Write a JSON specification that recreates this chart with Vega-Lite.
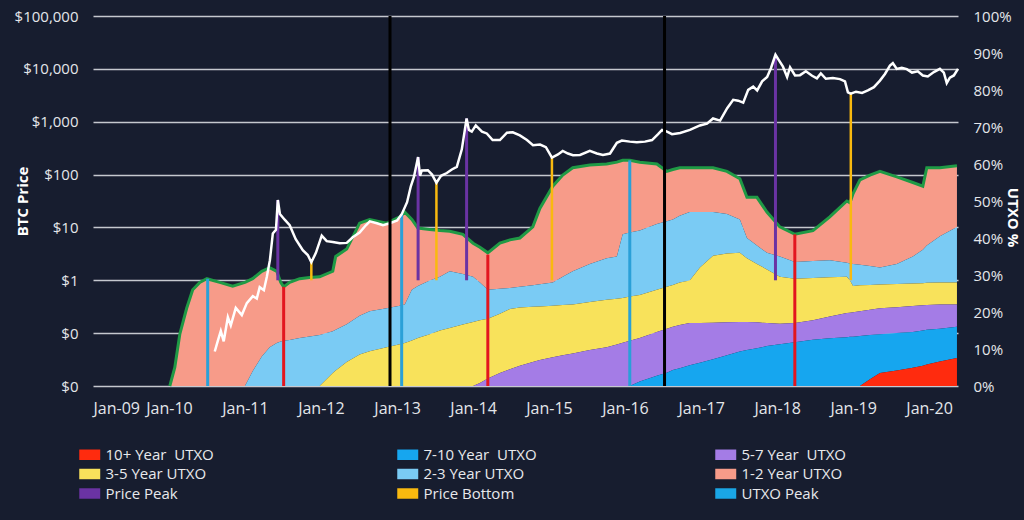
{
  "$schema": "https://vega.github.io/schema/vega-lite/v6.json",
  "width": 865,
  "height": 370,
  "autosize": {"type": "none"},
  "padding": {"left": 93, "top": 16, "right": 66, "bottom": 134},
  "background": "#171d2f",
  "config": {
    "view": {"stroke": null},
    "axis": {
      "labelFont": "Open Sans", "labelFontSize": 15, "labelColor": "#e4e6ea",
      "titleFont": "Open Sans", "titleFontSize": 15, "titleColor": "#ffffff", "titleFontWeight": "bold",
      "gridColor": "#c5c8cf", "gridWidth": 1.5, "gridOpacity": 1
    },
    "legend": {
      "labelFont": "Open Sans", "labelFontSize": 15, "labelColor": "#e8e9ec"
    }
  },
  "datasets": {
    "utxo": [
      {"d":"2010-01-05","T":0,"c2":0,"c3":0,"c5":0,"c7":0,"c10":0},
      {"d":"2010-01-29","T":5,"c2":0,"c3":0,"c5":0,"c7":0,"c10":0},
      {"d":"2010-02-22","T":14,"c2":0,"c3":0,"c5":0,"c7":0,"c10":0},
      {"d":"2010-03-27","T":21,"c2":0,"c3":0,"c5":0,"c7":0,"c10":0},
      {"d":"2010-04-25","T":26,"c2":0,"c3":0,"c5":0,"c7":0,"c10":0},
      {"d":"2010-05-29","T":28,"c2":0,"c3":0,"c5":0,"c7":0,"c10":0},
      {"d":"2010-07-02","T":29,"c2":0,"c3":0,"c5":0,"c7":0,"c10":0},
      {"d":"2010-09-02","T":28,"c2":0,"c3":0,"c5":0,"c7":0,"c10":0},
      {"d":"2010-11-03","T":27,"c2":0,"c3":0,"c5":0,"c7":0,"c10":0},
      {"d":"2011-01-01","T":28,"c2":0,"c3":0,"c5":0,"c7":0,"c10":0},
      {"d":"2011-02-07","T":29,"c2":4,"c3":0,"c5":0,"c7":0,"c10":0},
      {"d":"2011-03-23","T":31,"c2":8,"c3":0,"c5":0,"c7":0,"c10":0},
      {"d":"2011-04-30","T":32,"c2":10.5,"c3":0,"c5":0,"c7":0,"c10":0},
      {"d":"2011-06-03","T":31,"c2":11.6,"c3":0,"c5":0,"c7":0,"c10":0},
      {"d":"2011-06-22","T":28,"c2":12,"c3":0,"c5":0,"c7":0,"c10":0},
      {"d":"2011-07-06","T":26.8,"c2":12.2,"c3":0,"c5":0,"c7":0,"c10":0},
      {"d":"2011-08-04","T":28,"c2":12.4,"c3":0,"c5":0,"c7":0,"c10":0},
      {"d":"2011-09-21","T":29,"c2":13,"c3":0,"c5":0,"c7":0,"c10":0},
      {"d":"2011-11-08","T":29.3,"c2":13.4,"c3":0,"c5":0,"c7":0,"c10":0},
      {"d":"2011-12-26","T":29.5,"c2":13.8,"c3":0,"c5":0,"c7":0,"c10":0},
      {"d":"2012-02-27","T":31,"c2":14.8,"c3":3.5,"c5":0,"c7":0,"c10":0},
      {"d":"2012-03-12","T":35,"c2":15.2,"c3":4.2,"c5":0,"c7":0,"c10":0},
      {"d":"2012-05-04","T":37,"c2":16.7,"c3":6.5,"c5":0,"c7":0,"c10":0},
      {"d":"2012-07-05","T":44,"c2":19,"c3":8.5,"c5":0,"c7":0,"c10":0},
      {"d":"2012-08-22","T":45,"c2":20.2,"c3":9.4,"c5":0,"c7":0,"c10":0},
      {"d":"2012-11-12","T":44,"c2":21,"c3":10.5,"c5":0,"c7":0,"c10":0},
      {"d":"2013-01-14","T":45.7,"c2":21.7,"c3":11.3,"c5":0,"c7":0,"c10":0},
      {"d":"2013-02-07","T":47,"c2":22,"c3":11.6,"c5":0,"c7":0,"c10":0},
      {"d":"2013-03-13","T":45,"c2":26,"c3":12.3,"c5":0,"c7":0,"c10":0},
      {"d":"2013-04-11","T":42.7,"c2":27,"c3":13,"c5":0,"c7":0,"c10":0},
      {"d":"2013-06-07","T":42.3,"c2":28.5,"c3":14,"c5":0,"c7":0,"c10":0},
      {"d":"2013-07-26","T":42,"c2":29.5,"c3":15,"c5":0,"c7":0,"c10":0},
      {"d":"2013-09-11","T":41.8,"c2":31,"c3":15.7,"c5":0,"c7":0,"c10":0},
      {"d":"2013-11-13","T":41,"c2":30.3,"c3":16.6,"c5":0,"c7":0,"c10":0},
      {"d":"2014-01-01","T":38.6,"c2":29.5,"c3":17.3,"c5":0,"c7":0,"c10":0},
      {"d":"2014-02-03","T":37.5,"c2":28,"c3":17.8,"c5":0.8,"c7":0,"c10":0},
      {"d":"2014-03-13","T":36,"c2":26,"c3":18.2,"c5":2,"c7":0,"c10":0},
      {"d":"2014-05-10","T":38.6,"c2":26.3,"c3":19.5,"c5":3.5,"c7":0,"c10":0},
      {"d":"2014-06-27","T":39.5,"c2":26.5,"c3":20.8,"c5":4.5,"c7":0,"c10":0},
      {"d":"2014-08-14","T":40,"c2":26.8,"c3":21.2,"c5":5.5,"c7":0,"c10":0},
      {"d":"2014-10-15","T":43,"c2":27.2,"c3":21.4,"c5":6.5,"c7":0,"c10":0},
      {"d":"2014-11-18","T":48,"c2":27.5,"c3":21.5,"c5":7,"c7":0,"c10":0},
      {"d":"2015-01-19","T":54,"c2":28,"c3":21.7,"c5":7.8,"c7":0,"c10":0},
      {"d":"2015-03-08","T":57,"c2":29.5,"c3":21.9,"c5":8.3,"c7":0,"c10":0},
      {"d":"2015-04-25","T":59,"c2":31,"c3":22,"c5":8.8,"c7":0,"c10":0},
      {"d":"2015-07-16","T":59.7,"c2":33,"c3":22.7,"c5":9.7,"c7":0,"c10":0},
      {"d":"2015-10-05","T":60,"c2":34.5,"c3":23.3,"c5":10.5,"c7":0,"c10":0},
      {"d":"2015-11-23","T":60.5,"c2":35,"c3":23.6,"c5":11.2,"c7":0,"c10":0},
      {"d":"2015-12-21","T":61,"c2":41,"c3":23.8,"c5":11.7,"c7":0,"c10":0},
      {"d":"2016-01-24","T":61,"c2":41.5,"c3":24.2,"c5":12.2,"c7":0,"c10":0},
      {"d":"2016-03-12","T":60.5,"c2":42,"c3":24.6,"c5":13,"c7":1.2,"c10":0},
      {"d":"2016-06-02","T":60,"c2":43.8,"c3":26,"c5":14.6,"c7":2.8,"c10":0},
      {"d":"2016-07-20","T":58,"c2":44.5,"c3":26.8,"c5":15.5,"c7":3.6,"c10":0},
      {"d":"2016-08-18","T":58.5,"c2":45,"c3":27.3,"c5":16,"c7":4.3,"c10":0},
      {"d":"2016-09-20","T":59,"c2":46,"c3":28,"c5":16.5,"c7":4.8,"c10":0},
      {"d":"2016-11-07","T":59,"c2":47,"c3":28.5,"c5":17,"c7":5.6,"c10":0},
      {"d":"2016-12-26","T":59,"c2":47,"c3":32,"c5":17,"c7":6.3,"c10":0},
      {"d":"2017-02-27","T":59,"c2":47,"c3":35.2,"c5":17.1,"c7":7.2,"c10":0},
      {"d":"2017-05-05","T":58,"c2":46.5,"c3":35.8,"c5":17.2,"c7":8.3,"c10":0},
      {"d":"2017-07-06","T":56,"c2":45,"c3":36,"c5":17.3,"c7":9.3,"c10":0},
      {"d":"2017-08-09","T":51,"c2":40,"c3":34.5,"c5":17.3,"c7":9.7,"c10":0},
      {"d":"2017-09-26","T":51,"c2":38,"c3":33,"c5":17.2,"c7":10.2,"c10":0},
      {"d":"2017-11-13","T":47,"c2":36,"c3":31.5,"c5":17,"c7":10.8,"c10":0},
      {"d":"2018-01-14","T":43,"c2":35,"c3":29.5,"c5":16.8,"c7":11.3,"c10":0},
      {"d":"2018-03-27","T":41,"c2":33.5,"c3":29,"c5":17,"c7":11.8,"c10":0},
      {"d":"2018-06-22","T":42,"c2":33.8,"c3":29.2,"c5":17.8,"c7":12.5,"c10":0},
      {"d":"2018-09-11","T":45.7,"c2":34,"c3":29.4,"c5":18.8,"c7":12.9,"c10":0},
      {"d":"2018-12-02","T":50,"c2":33.3,"c3":29.5,"c5":19.7,"c7":13.2,"c10":0},
      {"d":"2018-12-17","T":49.5,"c2":33.1,"c3":28.5,"c5":19.8,"c7":13.3,"c10":0},
      {"d":"2019-01-01","T":52,"c2":33,"c3":27,"c5":19.9,"c7":13.3,"c10":0},
      {"d":"2019-02-03","T":55.7,"c2":32.8,"c3":27.2,"c5":20.2,"c7":13.5,"c10":0},
      {"d":"2019-03-23","T":57,"c2":32.4,"c3":27.3,"c5":20.6,"c7":13.8,"c10":1.8},
      {"d":"2019-05-10","T":58,"c2":32,"c3":27.4,"c5":21,"c7":14,"c10":3.5},
      {"d":"2019-07-30","T":56.5,"c2":33,"c3":27.6,"c5":21.3,"c7":14.3,"c10":4.2},
      {"d":"2019-10-15","T":55,"c2":35,"c3":27.7,"c5":21.6,"c7":14.6,"c10":4.9},
      {"d":"2019-12-02","T":54,"c2":36.8,"c3":27.8,"c5":21.8,"c7":15,"c10":5.5},
      {"d":"2019-12-21","T":59,"c2":38,"c3":27.9,"c5":21.9,"c7":15.2,"c10":5.8},
      {"d":"2020-02-22","T":59,"c2":40.5,"c3":28,"c5":22,"c7":15.5,"c10":6.6},
      {"d":"2020-05-14","T":59.5,"c2":43,"c3":28,"c5":22,"c7":16,"c10":7.6}
    ],
    "price": [
      {"d":"2010-08-09","p":0.045},{"d":"2010-08-23","p":0.07},{"d":"2010-09-07","p":0.11},{"d":"2010-09-21","p":0.07},
      {"d":"2010-10-11","p":0.2},{"d":"2010-10-25","p":0.14},{"d":"2010-11-18","p":0.3},{"d":"2010-12-17","p":0.22},
      {"d":"2011-01-10","p":0.37},{"d":"2011-02-08","p":0.5},{"d":"2011-02-27","p":0.45},{"d":"2011-03-13","p":0.74},
      {"d":"2011-04-02","p":0.65},{"d":"2011-04-16","p":1.15},{"d":"2011-05-01","p":2.4},{"d":"2011-05-15","p":7.7},
      {"d":"2011-05-30","p":9},{"d":"2011-06-08","p":33},{"d":"2011-06-18","p":18},{"d":"2011-07-11","p":14},
      {"d":"2011-08-04","p":11},{"d":"2011-09-02","p":6},{"d":"2011-10-06","p":3.7},{"d":"2011-10-30","p":3.0},
      {"d":"2011-11-16","p":2.2},{"d":"2011-12-08","p":3.3},{"d":"2012-01-05","p":7},{"d":"2012-01-29","p":5.5},
      {"d":"2012-02-27","p":5.3},{"d":"2012-04-01","p":5},{"d":"2012-05-04","p":5.1},{"d":"2012-06-02","p":6.5},
      {"d":"2012-07-05","p":8},{"d":"2012-08-04","p":11},{"d":"2012-08-23","p":13},{"d":"2012-09-26","p":12},
      {"d":"2012-10-25","p":11},{"d":"2012-11-27","p":12},{"d":"2013-01-01","p":13.5},{"d":"2013-01-24","p":18},
      {"d":"2013-02-18","p":30},{"d":"2013-03-08","p":60},{"d":"2013-03-23","p":90},{"d":"2013-04-12","p":215},
      {"d":"2013-04-21","p":95},{"d":"2013-04-30","p":120},{"d":"2013-05-29","p":121},{"d":"2013-06-18","p":100},
      {"d":"2013-07-09","p":70},{"d":"2013-07-31","p":95},{"d":"2013-08-28","p":107},{"d":"2013-09-21","p":125},
      {"d":"2013-10-15","p":140},{"d":"2013-11-08","p":300},{"d":"2013-12-01","p":1150},{"d":"2013-12-12","p":700},
      {"d":"2013-12-26","p":650},{"d":"2014-01-14","p":850},{"d":"2014-02-13","p":650},{"d":"2014-03-08","p":600},
      {"d":"2014-04-05","p":450},{"d":"2014-05-10","p":450},{"d":"2014-06-13","p":620},{"d":"2014-07-11","p":630},
      {"d":"2014-08-14","p":550},{"d":"2014-09-17","p":450},{"d":"2014-10-16","p":360},{"d":"2014-11-19","p":370},
      {"d":"2014-12-17","p":330},{"d":"2015-01-15","p":210},{"d":"2015-02-13","p":240},{"d":"2015-03-08","p":280},
      {"d":"2015-04-02","p":250},{"d":"2015-04-26","p":232},{"d":"2015-05-30","p":235},{"d":"2015-07-16","p":280},
      {"d":"2015-08-19","p":250},{"d":"2015-09-17","p":235},{"d":"2015-10-21","p":250},{"d":"2015-11-23","p":400},
      {"d":"2015-12-17","p":440},{"d":"2016-01-24","p":420},{"d":"2016-02-27","p":410},{"d":"2016-04-06","p":420},
      {"d":"2016-05-10","p":450},{"d":"2016-06-08","p":580},{"d":"2016-06-27","p":700},{"d":"2016-07-16","p":660},
      {"d":"2016-08-14","p":580},{"d":"2016-09-22","p":610},{"d":"2016-11-08","p":700},{"d":"2016-12-26","p":850},
      {"d":"2017-01-29","p":920},{"d":"2017-02-27","p":1150},{"d":"2017-04-02","p":1050},{"d":"2017-05-06","p":1800},
      {"d":"2017-06-04","p":2600},{"d":"2017-06-28","p":2500},{"d":"2017-07-22","p":2300},{"d":"2017-08-15","p":4000},
      {"d":"2017-09-08","p":4600},{"d":"2017-09-27","p":3900},{"d":"2017-10-21","p":5800},{"d":"2017-11-14","p":7000},
      {"d":"2017-12-03","p":10500},{"d":"2017-12-24","p":18500},{"d":"2018-01-10","p":14500},{"d":"2018-01-29","p":11000},
      {"d":"2018-02-18","p":7000},{"d":"2018-03-04","p":10700},{"d":"2018-03-28","p":7500},{"d":"2018-04-21","p":7600},
      {"d":"2018-05-19","p":9000},{"d":"2018-06-18","p":7400},{"d":"2018-07-11","p":6600},{"d":"2018-07-30","p":8200},
      {"d":"2018-08-23","p":6500},{"d":"2018-09-26","p":6700},{"d":"2018-10-30","p":6400},{"d":"2018-11-23","p":5800},
      {"d":"2018-12-07","p":3600},{"d":"2018-12-21","p":3400},{"d":"2019-01-15","p":3700},{"d":"2019-02-13","p":3500},
      {"d":"2019-03-13","p":3900},{"d":"2019-04-11","p":4500},{"d":"2019-05-10","p":6000},{"d":"2019-06-03","p":8000},
      {"d":"2019-06-27","p":11500},{"d":"2019-07-11","p":12800},{"d":"2019-07-30","p":10000},{"d":"2019-08-23","p":10500},
      {"d":"2019-09-16","p":9900},{"d":"2019-10-11","p":8500},{"d":"2019-11-08","p":9000},{"d":"2019-12-02","p":7500},
      {"d":"2019-12-26","p":7200},{"d":"2020-01-24","p":8700},{"d":"2020-02-22","p":10000},{"d":"2020-03-12","p":8500},
      {"d":"2020-03-26","p":5400},{"d":"2020-04-10","p":6800},{"d":"2020-04-29","p":7500},{"d":"2020-05-19","p":10000}
    ],
    "ppeaks": [
      {"d":"2011-06-08","p":33},{"d":"2013-04-12","p":215},{"d":"2013-12-01","p":1150},{"d":"2017-12-24","p":18500}
    ],
    "pbottoms": [
      {"d":"2011-11-16","p":2.2},{"d":"2013-07-09","p":70},{"d":"2015-01-15","p":210},{"d":"2018-12-21","p":3400}
    ],
    "upeaks": [
      {"d":"2010-07-06","u":29},{"d":"2013-01-23","u":46.5},{"d":"2016-01-24","u":61}
    ],
    "ubottoms": [
      {"d":"2011-07-06","u":26.8},{"d":"2014-03-13","u":35.5},{"d":"2018-03-27","u":41}
    ],
    "halvings": [
      {"d":"2012-11-28"},{"d":"2016-07-09"}
    ]
  },
  "layer": [
    {
      "data": {"name": "utxo"},
      "layer": [
        {
          "mark": {"type": "area"},
          "encoding": {
            "x": {"field": "d", "type": "temporal",
              "scale": {"domain": [{"year": 2009, "month": 1, "date": 1}, {"year": 2020, "month": 5, "date": 19}], "nice": false},
              "axis": {"format": "%b-%y", "tickCount": {"interval": "year", "step": 1}, "grid": false, "ticks": false, "domain": false, "labelPadding": 14, "labelAngle": 0, "labelFontSize": 16, "title": null}},
            "y": {"field": "T", "type": "quantitative", "scale": {"domain": [0, 100], "nice": false},
              "axis": {"orient": "right", "tickCount": 10, "labelExpr": "datum.value + '%'", "labelOverlap": false, "labelBound": false, "labelSeparation": 0, "grid": false, "ticks": false, "domain": false, "labelPadding": 15,
                "title": "UTXO %", "titleX": 54, "titleY": 201, "titleAngle": 90, "titleBaseline": "middle", "titleAlign": "center"}},
            "y2": {"field": "c2"},
            "color": {"datum": "1-2 Year UTXO", "type": "nominal",
              "scale": {"domain": ["10+ Year\u00a0 UTXO", "3-5 Year UTXO", "Price Peak", "7-10 Year\u00a0 UTXO", "2-3 Year UTXO", "Price Bottom", "5-7 Year\u00a0 UTXO", "1-2 Year UTXO", "UTXO Peak"],
                "range": ["#ff2b0e", "#f8e25b", "#6a33a3", "#16a6ef", "#7acbf4", "#f9b90f", "#a47ce6", "#f79b89", "#1aa6e6"]},
              "legend": {"orient": "none", "legendX": -16, "legendY": 431, "columns": 3, "gridAlign": "all", "columnPadding": 176, "rowPadding": 3.5,
                "symbolType": "M-1,-1H3V1H-1Z", "symbolSize": 110, "symbolStrokeWidth": 0, "labelOffset": 13.5, "title": null}}
          }
        },
        {
          "mark": {"type": "area"},
          "encoding": {
            "x": {"field": "d", "type": "temporal"},
            "y": {"field": "c2", "type": "quantitative"},
            "y2": {"field": "c3"},
            "color": {"datum": "2-3 Year UTXO", "type": "nominal"}
          }
        },
        {
          "mark": {"type": "area"},
          "encoding": {
            "x": {"field": "d", "type": "temporal"},
            "y": {"field": "c3", "type": "quantitative"},
            "y2": {"field": "c5"},
            "color": {"datum": "3-5 Year UTXO", "type": "nominal"}
          }
        },
        {
          "mark": {"type": "area"},
          "encoding": {
            "x": {"field": "d", "type": "temporal"},
            "y": {"field": "c5", "type": "quantitative"},
            "y2": {"field": "c7"},
            "color": {"datum": "5-7 Year\u00a0 UTXO", "type": "nominal"}
          }
        },
        {
          "mark": {"type": "area"},
          "encoding": {
            "x": {"field": "d", "type": "temporal"},
            "y": {"field": "c7", "type": "quantitative"},
            "y2": {"field": "c10"},
            "color": {"datum": "7-10 Year\u00a0 UTXO", "type": "nominal"}
          }
        },
        {
          "mark": {"type": "area"},
          "encoding": {
            "x": {"field": "d", "type": "temporal"},
            "y": {"field": "c10", "type": "quantitative"},
            "y2": {"datum": 0},
            "color": {"datum": "10+ Year\u00a0 UTXO", "type": "nominal"}
          }
        },
        {
          "mark": {"type": "line", "color": "#1f9a45", "strokeWidth": 3},
          "encoding": {
            "x": {"field": "d", "type": "temporal"},
            "y": {"field": "T", "type": "quantitative"}
          }
        },
        {
          "data": {"name": "upeaks"},
          "mark": {"type": "rule", "color": "#2aa0d8", "strokeWidth": 3},
          "encoding": {
            "x": {"field": "d", "type": "temporal"},
            "y": {"field": "u", "type": "quantitative"},
            "y2": {"datum": 0}
          }
        },
        {
          "data": {"name": "ubottoms"},
          "mark": {"type": "rule", "color": "#e3161e", "strokeWidth": 3},
          "encoding": {
            "x": {"field": "d", "type": "temporal"},
            "y": {"field": "u", "type": "quantitative"},
            "y2": {"datum": 0}
          }
        }
      ]
    },
    {
      "layer": [
        {
          "data": {"name": "ppeaks"},
          "mark": {"type": "rule", "color": "#6a33a3", "strokeWidth": 3},
          "encoding": {
            "x": {"field": "d", "type": "temporal"},
            "y": {"field": "p", "type": "quantitative", "scale": {"type": "log", "domain": [0.01, 100000], "nice": false},
              "axis": {"orient": "left", "values": [0.01, 0.1, 1, 10, 100, 1000, 10000, 100000], "format": "$,.0f", "labelOverlap": false, "grid": true, "ticks": false, "domain": false, "labelPadding": 15,
                "title": "BTC Price", "titleX": -71, "titleY": 185, "titleAngle": 270, "titleBaseline": "middle", "titleAlign": "center"}},
            "y2": {"datum": 1}
          }
        },
        {
          "data": {"name": "pbottoms"},
          "mark": {"type": "rule", "color": "#f9b90f", "strokeWidth": 2.5},
          "encoding": {
            "x": {"field": "d", "type": "temporal"},
            "y": {"field": "p", "type": "quantitative"},
            "y2": {"datum": 1}
          }
        },
        {
          "data": {"name": "price"},
          "mark": {"type": "line", "color": "#ffffff", "strokeWidth": 2.5},
          "encoding": {
            "x": {"field": "d", "type": "temporal"},
            "y": {"field": "p", "type": "quantitative"}
          }
        },
        {
          "data": {"name": "halvings"},
          "mark": {"type": "rule", "color": "#000000", "strokeWidth": 3},
          "encoding": {
            "x": {"field": "d", "type": "temporal"},
            "y": {"datum": 0.01, "type": "quantitative"},
            "y2": {"datum": 100000}
          }
        }
      ]
    }
  ],
  "resolve": {"scale": {"y": "independent"}}
}
